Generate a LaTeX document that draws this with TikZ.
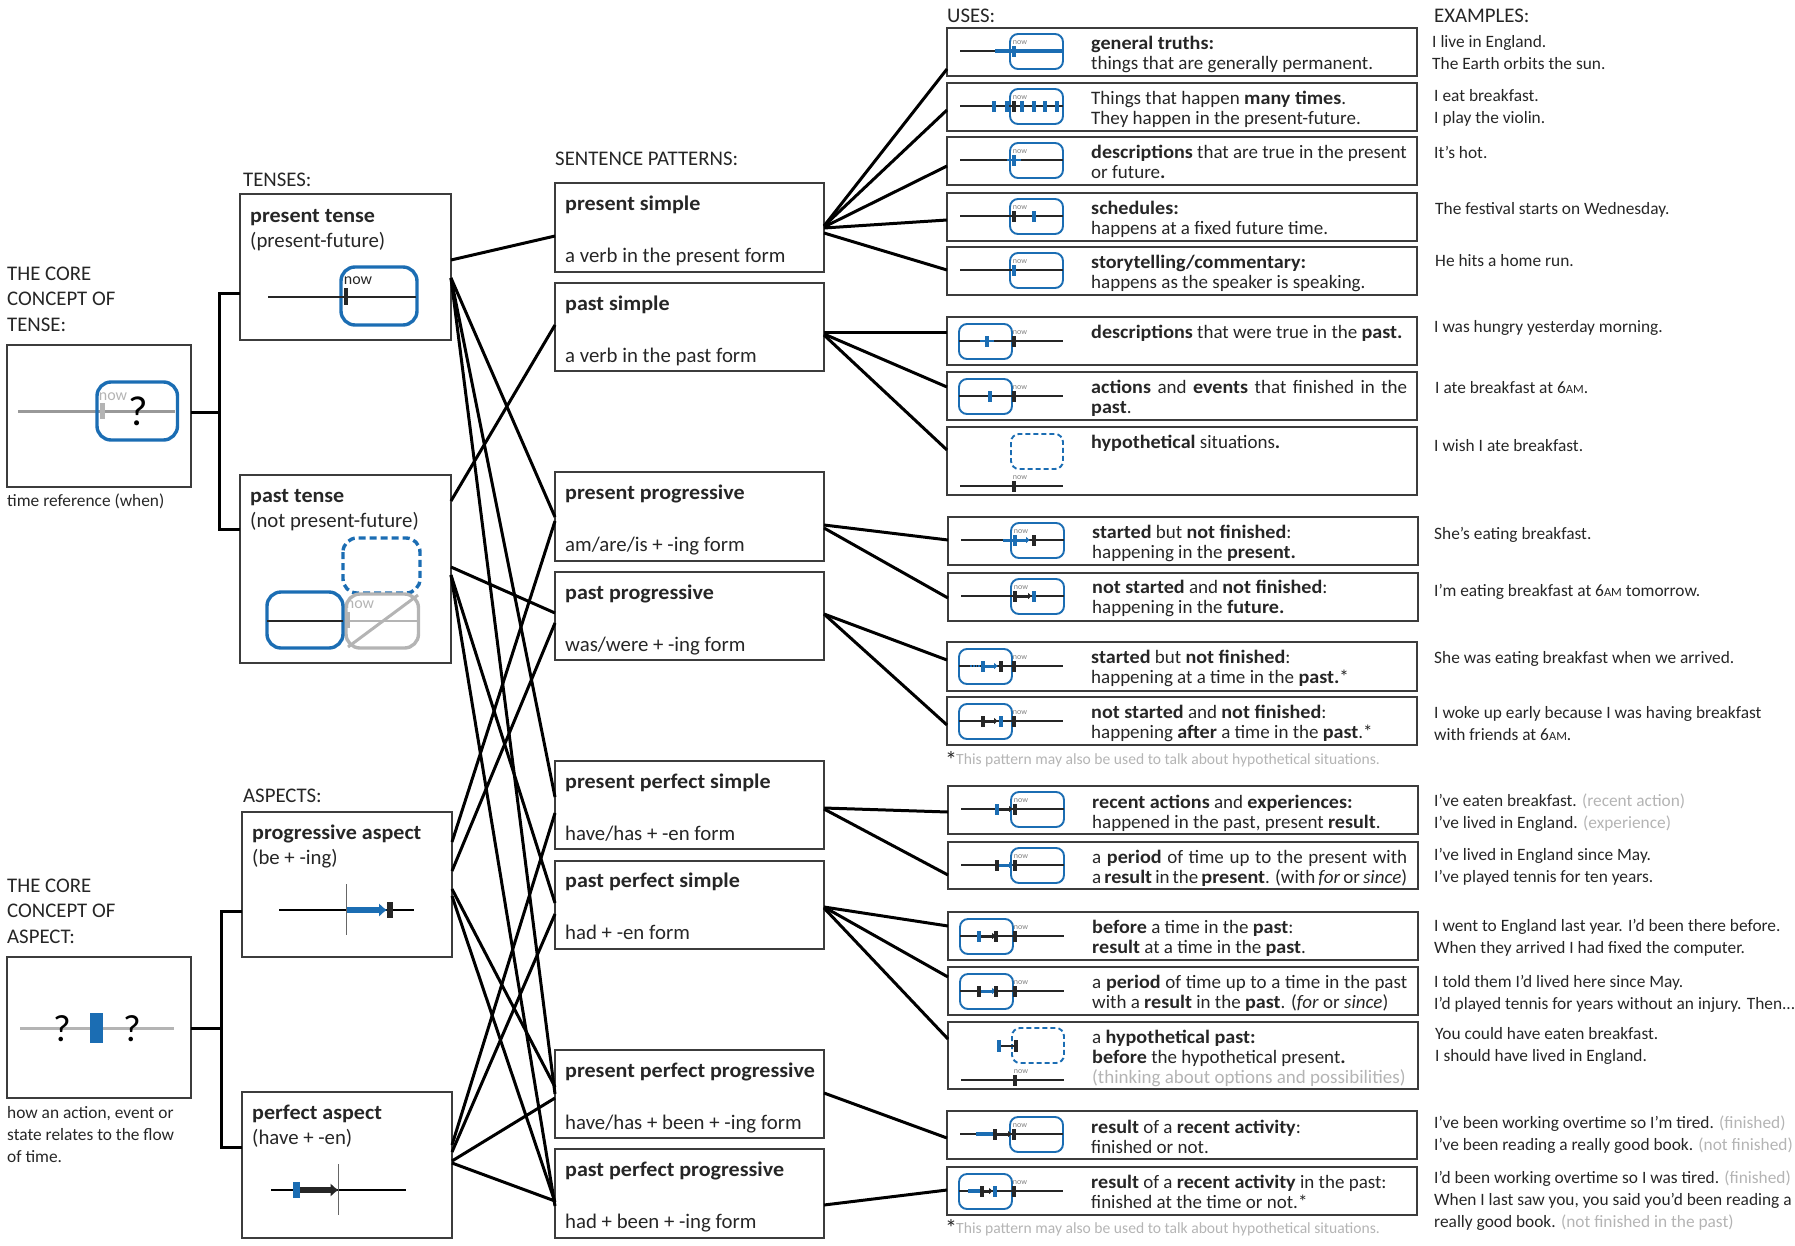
\documentclass[tikz,border=0pt]{standalone}
\usepackage{fontspec}
\setmainfont{Carlito}[BoldFeatures={FakeStretch=1.06}]
\usetikzlibrary{arrows.meta}
\definecolor{tblue}{HTML}{1B6DB3}
\definecolor{ink}{HTML}{262626}
\definecolor{faint}{HTML}{B4B4B4}
\definecolor{rim}{HTML}{3C3C3C}
\tikzset{
 box/.style={draw=rim,line width=1.8pt,outer sep=0pt,inner sep=0pt},
 conn/.style={draw=black,line width=3pt,line join=miter},
 head/.style={anchor=west,inner sep=0pt,text=ink,font=\fontsize{20.8}{25.5}\selectfont,align=left},
 main/.style={anchor=north west,inner sep=0pt,text=ink,align=left,font=\fontsize{20.8}{25.5}\selectfont,yshift=11pt},
 use/.style={anchor=north west,inner sep=0pt,text=ink,align=left,font=\fontsize{19}{20}\selectfont,yshift=8pt},
 exa/.style={anchor=north west,inner sep=0pt,text=ink,align=left,font=\fontsize{17.35}{21.7}\selectfont,yshift=9.5pt},
 nowt/.style={inner sep=0pt,font=\fontsize{8}{8}\selectfont},
 nowb/.style={inner sep=0pt,font=\fontsize{16}{15}\selectfont},
 rbox/.style={draw=tblue,line width=1.9pt,rounded corners=8pt},
 bigr/.style={draw=tblue,line width=3.4pt,rounded corners=14pt},
 tline/.style={draw=ink,line width=2pt},
}
\newcommand{\bx}[5]{\node[box,minimum width={(#4-#2)*1pt},minimum height={(#5-#3)*1pt}] (#1) at ({(#2+#4)/2},{(#3+#5)/2}) {};}
\newcommand{\cn}[4]{\draw[conn] (#1.east |- 0,#2) -- (#3.west |- 0,#4);}
\newcommand{\tx}[5][main]{\node[#1] (#2) at (#3,#4) {\strut #5};}
\newcommand{\am}{{\fontsize{12.5}{12.5}\selectfont AM}}
\newcommand{\gr}[1]{\textcolor{faint}{#1}}
\def\my{23}
\newcommand{\bm}[1]{\fill[tblue] (#1-2.4,\my-5.5) rectangle (#1+2.4,\my+5.5);}
\newcommand{\km}[1]{\fill[ink] (#1-2.4,\my-5.5) rectangle (#1+2.4,\my+5.5);}
\newcommand{\ba}[2]{\draw[tblue,line width=3pt,-{Latex[length=4pt,width=7pt]}] (#1,\my) -- (#2,\my);}
\newcommand{\ka}[2]{\draw[ink,line width=3pt,-{Latex[length=4pt,width=7pt]}] (#1,\my) -- (#2,\my);}
\newcommand{\minipres}[4]{\begin{scope}[shift={(#2,#3)}]\def\my{23}
 \draw[rbox] (63,6) rectangle (116,41);
 \draw[tline] (13,23) -- (116,23);
 \node[nowt,text=gray] (now#1) at (73,15) {now};
 #4\end{scope}}
\newcommand{\minipast}[4]{\begin{scope}[shift={(#2,#3)}]\def\my{24}
 \draw[rbox] (12,7) rectangle (65,42);
 \draw[tline] (12,24) -- (116,24);
 \node[nowt,text=gray] (now#1) at (73,16) {now};
 #4\end{scope}}
\newcommand{\minihyp}[7]{\begin{scope}[shift={(#2,#3)}]
 \draw[rbox,dash pattern=on 5pt off 3pt] (64,#4) rectangle (116,#5);
 \draw[tline] (13,#6) -- (116,#6);
 \fill[ink] (65,#6-5.5) rectangle (69.4,#6+5.5);
 \node[nowt,text=gray] (now#1) at (73,#6-8) {now};
 #7\end{scope}}
\begin{document}
\begin{tikzpicture}[x=1pt,y=-1pt]
\useasboundingbox (0,0) rectangle (1795,1245);
\bx{coreT}{7}{345}{191}{487}
\bx{coreA}{7}{957}{191}{1098}
\bx{presT}{240}{194}{451}{340}
\bx{pastT}{240}{475}{451}{663}
\bx{progA}{242}{812}{452}{957}
\bx{perfA}{242}{1092}{452}{1238}
\bx{s1}{555}{183}{824}{272}
\bx{s2}{555}{283}{824}{371}
\bx{s3}{555}{472}{824}{561}
\bx{s4}{555}{572}{824}{660}
\bx{s5}{555}{761}{824}{849}
\bx{s6}{555}{861}{824}{949}
\bx{s7}{555}{1050}{824}{1138}
\bx{s8}{555}{1149}{824}{1238}
\bx{u1}{947}{28}{1417}{76}
\bx{u2}{947}{83}{1417}{131}
\bx{u3}{947}{137}{1417}{185}
\bx{u4}{947}{193}{1417}{241}
\bx{u5}{947}{247}{1417}{295}
\bx{u6}{947}{317}{1417}{365}
\bx{u7}{947}{372}{1417}{420}
\bx{u8}{947}{427}{1417}{495}
\bx{u9}{948}{517}{1418}{565}
\bx{u10}{948}{573}{1418}{621}
\bx{u11}{947}{642}{1417}{691}
\bx{u12}{947}{697}{1417}{745}
\bx{u13}{948}{786}{1418}{834}
\bx{u14}{948}{842}{1418}{889}
\bx{u15}{948}{912}{1418}{960}
\bx{u16}{948}{967}{1418}{1015}
\bx{u17}{948}{1022}{1418}{1089}
\bx{u18}{947}{1111}{1417}{1159}
\bx{u19}{947}{1167}{1417}{1215}
\coordinate (ja) at (219,293);
\coordinate (jb) at (219,529);
\coordinate (jc) at (221,911);
\coordinate (jd) at (221,1147);
\draw[conn] (presT.west |- ja) -- (ja) -- (jb) -- (pastT.west |- jb);
\draw[conn] (coreT.east |- 0,412) -- (ja |- 0,412);
\draw[conn] (progA.west |- jc) -- (jc) -- (jd) -- (perfA.west |- jd);
\draw[conn] (coreA.east |- 0,1028) -- (jc |- 0,1028);
\cn{presT}{260}{s1}{236}
\cn{presT}{278}{s3}{517}
\cn{presT}{278}{s5}{797}
\cn{presT}{278}{s7}{1094}
\cn{pastT}{501}{s2}{325}
\cn{pastT}{567}{s4}{613}
\cn{pastT}{575}{s6}{903}
\cn{pastT}{575}{s8}{1206}
\cn{progA}{842}{s3}{521}
\cn{progA}{871}{s4}{623}
\cn{progA}{889}{s7}{1087}
\cn{progA}{896}{s8}{1202}
\cn{perfA}{1145}{s5}{813}
\cn{perfA}{1152}{s6}{914}
\cn{perfA}{1161}{s7}{1098}
\cn{perfA}{1163}{s8}{1201}
\cn{s1}{226}{u1}{69}
\cn{s1}{226}{u2}{110}
\cn{s1}{227}{u3}{166}
\cn{s1}{228}{u4}{220}
\cn{s1}{233}{u5}{270}
\cn{s2}{332}{u6}{332}
\cn{s2}{334}{u7}{387}
\cn{s2}{335}{u8}{450}
\cn{s3}{525}{u9}{540}
\cn{s3}{528}{u10}{598}
\cn{s4}{614}{u11}{660}
\cn{s4}{614}{u12}{725}
\cn{s5}{808}{u13}{812}
\cn{s5}{809}{u14}{875}
\cn{s6}{907}{u15}{926}
\cn{s6}{907}{u16}{977}
\cn{s6}{908}{u17}{1039}
\cn{s7}{1093}{u18}{1138}
\cn{s8}{1205}{u19}{1190}
\node[head] (lUses) at (947,16) {USES:};
\node[head] (lEx) at (1434,16) {EXAMPLES:};
\node[head] (lSent) at (555,159) {SENTENCE PATTERNS:};
\node[head] (lTen) at (243,180) {TENSES:};
\node[head] (lAsp) at (243,796) {ASPECTS:};
\tx{lCoreT}{7}{273}{THE CORE\\CONCEPT OF\\TENSE:}
\tx{lCoreA}{7}{885}{THE CORE\\CONCEPT OF\\ASPECT:}
\tx[exa]{capT}{7}{501}{time reference (when)}
\tx[exa]{capA}{7}{1113}{how an action, event or\\state relates to the flow\\of time.}
\draw[faint!85!black,line width=3pt] (18,411) -- (175,411);
\draw[bigr] (97,382) rectangle (177.5,440);
\fill[faint] (100,403) rectangle (105,419);
\node[nowb,text=faint] (nowC) at (113,397) {now};
\node[inner sep=0pt,text=black,font=\fontsize{42}{42}\selectfont] (qT) at (138,411) {?};
\tx{tPres}{250}{215}{\textbf{present tense}\\(present-future)}
\draw[bigr] (341,267) rectangle (417,325);
\draw[ink,line width=2.4pt] (268,297) -- (416,297);
\fill[ink] (343.5,288) rectangle (348,305);
\node[nowb,text=ink] (nowP) at (358,281) {now};
\tx{tPast}{250}{495}{\textbf{past tense}\\(not present-future)}
\draw[bigr,dash pattern=on 7pt off 4pt] (343,538) rectangle (420,593);
\draw[faint,line width=3.4pt,rounded corners=14pt] (346,594) rectangle (418.5,648);
\draw[faint,line width=3pt] (348,647) -- (418,595);
\draw[faint,line width=2pt] (346,621) -- (418,621);
\draw[bigr] (267,592) rectangle (343,648);
\draw[ink,line width=2.4pt] (267,621) -- (343,621);
\fill[faint] (347,612) rectangle (350,628);
\node[nowb,text=faint] (nowQ) at (360,605) {now};
\draw[faint,line width=3pt] (20,1028) -- (174,1028);
\fill[tblue] (90,1013) rectangle (103,1043);
\node[inner sep=0pt,text=black,font=\fontsize{38}{38}\selectfont] (qA) at (62,1029) {?};
\node[inner sep=0pt,text=black,font=\fontsize{38}{38}\selectfont] (qB) at (132,1029) {?};
\tx{tProg}{252}{832}{\textbf{progressive aspect}\\(be + -ing)}
\draw[black,line width=2.8pt] (279,910) -- (414,910);
\draw[black!60,line width=1.3pt] (346.5,884) -- (346.5,935);
\draw[tblue,line width=6.5pt,-{Latex[length=8pt,width=14pt]}] (346.5,910) -- (387,910);
\fill[ink] (387,902) rectangle (393,918);
\tx{tPerf}{252}{1112}{\textbf{perfect aspect}\\(have + -en)}
\draw[black,line width=2.8pt] (271,1190) -- (406,1190);
\draw[black!60,line width=1.3pt] (338.5,1164) -- (338.5,1215);
\draw[ink,line width=6.5pt,-{Latex[length=8pt,width=14pt]}] (300,1190) -- (338.5,1190);
\fill[tblue] (293,1182) rectangle (300,1198);
\tx[main]{p1a}{565}{203}{\textbf{present simple}}
\tx[main]{p1b}{565}{255}{a verb in the present form}
\tx[main]{p2a}{565}{303}{\textbf{past simple}}
\tx[main]{p2b}{565}{355}{a verb in the past form}
\tx[main]{p3a}{565}{492}{\textbf{present progressive}}
\tx[main]{p3b}{565}{544}{am/are/is + -ing form}
\tx[main]{p4a}{565}{592}{\textbf{past progressive}}
\tx[main]{p4b}{565}{644}{was/were + -ing form}
\tx[main]{p5a}{565}{781}{\textbf{present perfect simple}}
\tx[main]{p5b}{565}{833}{have/has + -en form}
\tx[main]{p6a}{565}{880}{\textbf{past perfect simple}}
\tx[main]{p6b}{565}{932}{had + -en form}
\tx[main]{p7a}{565}{1070}{\textbf{present perfect progressive}}
\tx[main]{p7b}{565}{1122}{have/has + been + -ing form}
\tx[main]{p8a}{565}{1169}{\textbf{past perfect progressive}}
\tx[main]{p8b}{565}{1221}{had + been + -ing form}
\minipres{1}{947}{28}{\draw[tblue,line width=3.4pt] (48,23) -- (116,23);\bm{67}}
\minipres{2}{947}{83}{\bm{47}\bm{60}\km{67}\bm{75}\bm{87}\bm{98}\bm{110}}
\minipres{3}{947}{137}{\draw[tblue,line width=2.5pt] (60,23) -- (74,23);\bm{67}}
\minipres{4}{947}{193}{\km{67}\bm{87}}
\minipres{5}{947}{247}{\bm{67}}
\minipast{6}{947}{317}{\draw[tblue,line width=2.5pt] (33,24) -- (47,24);\bm{40}\km{67}}
\minipast{7}{947}{372}{\bm{43}\km{67}}
\minihyp{8}{947}{427}{7}{42}{59}{}
\minipres{9}{948}{517}{\draw[tblue,line width=3pt] (55,23) -- (66,23);\ba{62}{82}\bm{67}\km{86}}
\minipres{10}{948}{573}{\km{67}\ka{67}{84}\bm{86}}
\minipast{11}{947}{642}{\draw[tblue,line width=1.8pt,densely dotted] (23,24) -- (36,24);\ba{36}{51}\bm{36}\km{54}\km{67}}
\minipast{12}{947}{697}{\km{36}\ka{36}{51}\bm{54}\km{67}}
\minipres{13}{948}{786}{\bm{49}\ka{51}{65}\km{67}}
\minipres{14}{948}{842}{\km{49}\ba{51}{65}\km{67}}
\minipast{15}{948}{912}{\bm{31}\ka{33}{48}\km{48}\km{67}}
\minipast{16}{948}{967}{\km{31}\ba{33}{48}\km{48}\km{67}}
\minihyp{17}{948}{1022}{6}{41}{58}{\def\my{24}\fill[tblue] (49,18) rectangle (53,30);\draw[ink,line width=2.2pt] (53,24) -- (66,24);\fill[ink] (66,18) rectangle (70,30);}
\minipres{18}{947}{1111}{\draw[tblue,line width=3.5pt] (29,23) -- (46,23);\km{48}\ka{50}{65}\km{67}}
\minipast{19}{947}{1167}{\draw[tblue,line width=3.5pt] (21,24) -- (33,24);\km{35}\ka{35}{46}\bm{48}\km{67}}
\tx[use]{t1}{1091}{43}{\textbf{general truths:}\\things that are generally permanent.}
\tx[use]{t2}{1091}{98}{Things that happen \textbf{many times}.\\They happen in the present-future.}
\tx[use]{t3}{1091}{152}{\textbf{descriptions} that are true in the present\\or future\textbf{.}}
\tx[use]{t4}{1091}{208}{\textbf{schedules:}\\happens at a fixed future time.}
\tx[use]{t5}{1091}{262}{\textbf{storytelling/commentary:}\\happens as the speaker is speaking.}
\tx[use]{t6}{1091}{332}{\textbf{descriptions} that were true in the \textbf{past}\textbf{.}}
\tx[use]{t7}{1091}{387}{\makebox[316pt][s]{\textbf{actions} and \textbf{events} that finished in the}\\\textbf{past}.}
\tx[use]{t8}{1091}{442}{\textbf{hypothetical} situations\textbf{.}}
\tx[use]{t9}{1092}{532}{\textbf{started} but \textbf{not finished}:\\happening in the \textbf{present.}}
\tx[use]{t10}{1092}{587}{\textbf{not started} and \textbf{not finished}:\\happening in the \textbf{future.}}
\tx[use]{t11}{1091}{657}{\textbf{started} but \textbf{not finished}:\\happening at a time in the \textbf{past.}*}
\tx[use]{t12}{1091}{712}{\textbf{not started} and \textbf{not finished}:\\happening \textbf{after} a time in the \textbf{past}.*}
\tx[use]{t13}{1092}{802}{\textbf{recent actions} and \textbf{experiences:}\\happened in the past, present \textbf{result}.}
\tx[use]{t14}{1092}{857}{\makebox[315pt][s]{a \textbf{period} of time up to the present with}\\\makebox[315pt][s]{a \textbf{result} in the \textbf{present}. (with \textit{for} or \textit{since})}}
\tx[use]{t15}{1092}{927}{\textbf{before} a time in the \textbf{past}:\\\textbf{result} at a time in the \textbf{past}.}
\tx[use]{t16}{1092}{982}{\makebox[315pt][s]{a \textbf{period} of time up to a time in the past}\\with a \textbf{result} in the \textbf{past}. (\textit{for} or \textit{since})}
\tx[use]{t17}{1092}{1037}{a \textbf{hypothetical past:}\\\textbf{before} the hypothetical present\textbf{.}\\\gr{(thinking about options and possibilities)}}
\tx[use]{t18}{1091}{1127}{\textbf{result} of a \textbf{recent activity}:\\finished or not.}
\tx[use]{t19}{1091}{1182}{\textbf{result} of a \textbf{recent activity} in the past:\\finished at the time or not.*}
\node[inner sep=0pt,text=ink,font=\fontsize{24}{24}\selectfont] (st1) at (951,760) {*};
\node[anchor=west,inner sep=0pt,text=faint,font=\fontsize{15.6}{20}\selectfont] (fn1) at (956,760) {This pattern may also be used to talk about hypothetical situations.};
\node[inner sep=0pt,text=ink,font=\fontsize{24}{24}\selectfont] (st2) at (951,1228) {*};
\node[anchor=west,inner sep=0pt,text=faint,font=\fontsize{15.6}{20}\selectfont] (fn2) at (956,1229) {This pattern may also be used to talk about hypothetical situations.};
\tx[exa]{e1}{1432}{42}{I live in England.\\The Earth orbits the sun.}
\tx[exa]{e2}{1434}{96}{I eat breakfast.\\I play the violin.}
\tx[exa]{e3}{1434}{153}{It's hot.}
\tx[exa]{e4}{1435}{209}{The festival starts on Wednesday.}
\tx[exa]{e5}{1435}{261}{He hits a home run.}
\tx[exa]{e6}{1434}{327}{I was hungry yesterday morning.}
\tx[exa]{e7}{1435}{388}{I ate breakfast at 6\am.}
\tx[exa]{e8}{1434}{446}{I wish I ate breakfast.}
\tx[exa]{e9}{1434}{534}{She's eating breakfast.}
\tx[exa]{e10}{1434}{591}{I'm eating breakfast at 6\am{} tomorrow.}
\tx[exa]{e11}{1434}{658}{She was eating breakfast when we arrived.}
\tx[exa]{e12}{1434}{713}{I woke up early because I was having breakfast\\with friends at 6\am.}
\tx[exa]{e13}{1434}{801}{I've eaten breakfast. \gr{(recent action)}\\I've lived in England. \gr{(experience)}}
\tx[exa]{e14}{1434}{855}{I've lived in England since May.\\I've played tennis for ten years.}
\tx[exa]{e15}{1434}{926}{I went to England last year. I'd been there before.\\When they arrived I had fixed the computer.}
\tx[exa]{e16}{1434}{982}{I told them I'd lived here since May.\\I'd played tennis for years without an injury. Then...}
\tx[exa]{e17}{1435}{1034}{You could have eaten breakfast.\\I should have lived in England.}
\tx[exa]{e18}{1434}{1123}{I've been working overtime so I'm tired. \gr{(finished)}\\I've been reading a really good book. \gr{(not finished)}}
\tx[exa]{e19}{1434}{1178}{I'd been working overtime so I was tired. \gr{(finished)}\\When I last saw you, you said you'd been reading a\\really good book. \gr{(not finished in the past)}}
\end{tikzpicture}
\end{document}
